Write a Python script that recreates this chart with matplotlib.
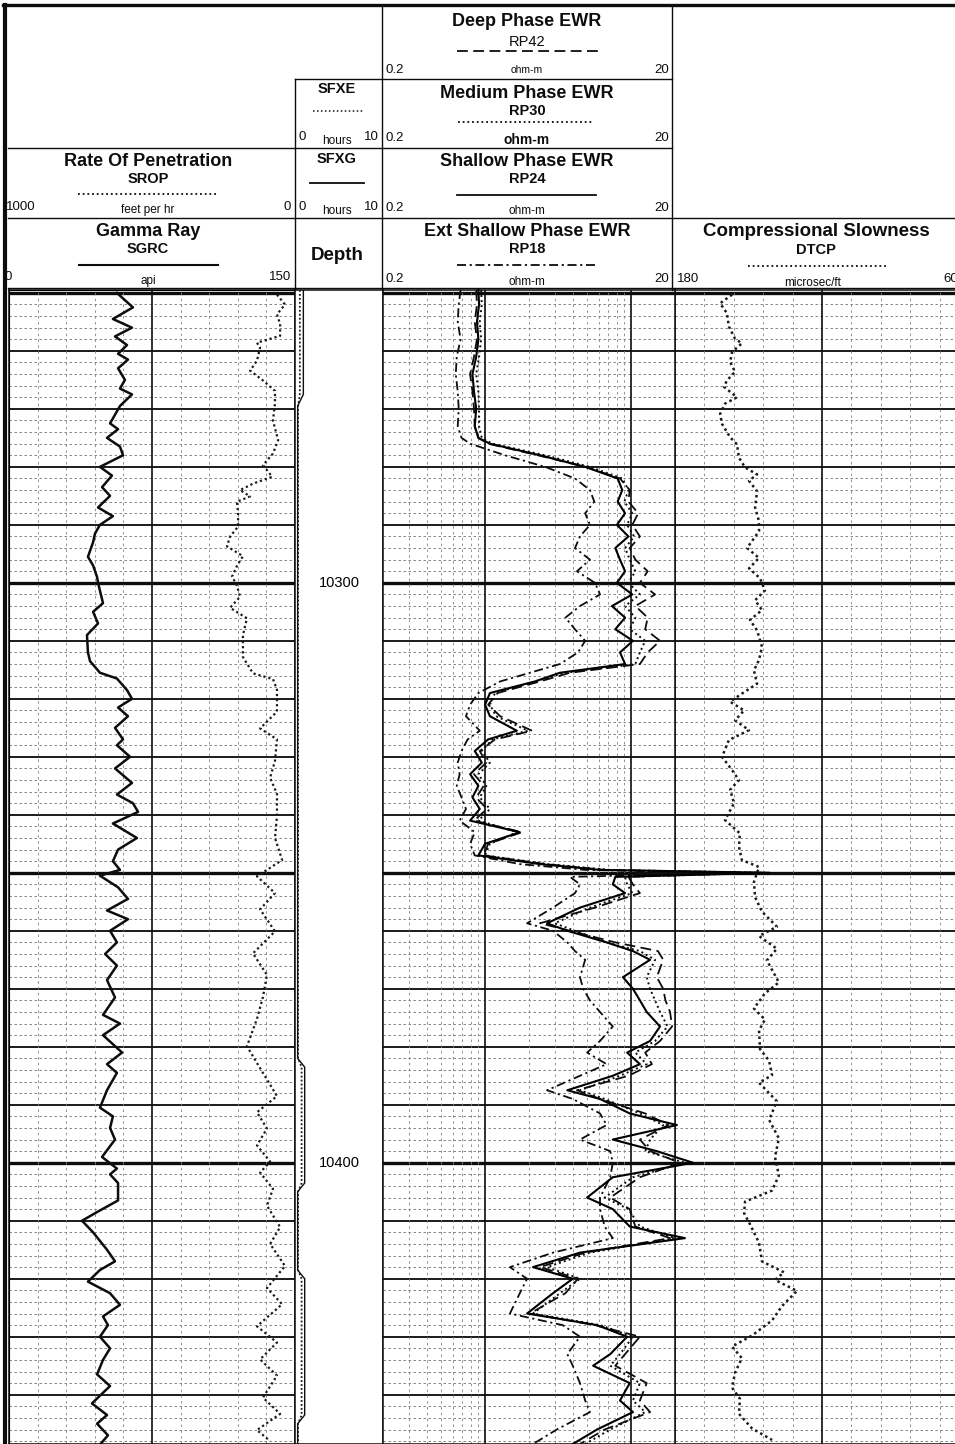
import matplotlib
matplotlib.use("Agg")
import matplotlib.pyplot as plt
from matplotlib.lines import Line2D

LARGURA = 955
ALTURA = 1444
TOPO_DADOS = 290

# ---- Gamma Ray (api)
GR_DEPTH = [10250.0, 10252.5, 10254.5, 10256.0, 10257.5, 10259.0, 10260.5, 10261.5, 10263.0, 10265.0,
            10266.5, 10267.5, 10269.5, 10271.0, 10272.5, 10273.5, 10275.0, 10276.5, 10278.0, 10280.0,
            10281.5, 10283.5, 10285.0, 10287.0, 10288.5, 10290.0, 10291.5, 10293.0, 10295.5, 10297.0,
            10299.0, 10300.0, 10303.5, 10305.0, 10307.0, 10309.0, 10312.0, 10313.5, 10315.5, 10316.5,
            10318.5, 10320.0, 10321.5, 10323.0, 10325.0, 10327.0, 10328.0, 10330.0, 10332.0, 10334.5,
            10336.5, 10338.0, 10339.5, 10341.5, 10344.0, 10346.0, 10348.0, 10349.5, 10350.5, 10352.5,
            10354.5, 10356.5, 10358.0, 10360.0, 10362.0, 10364.0, 10366.0, 10368.5, 10371.5, 10374.5,
            10376.0, 10378.0, 10381.0, 10383.0, 10384.5, 10387.5, 10390.5, 10392.0, 10394.0, 10396.0,
            10399.0, 10401.0, 10402.0, 10403.5, 10406.5, 10408.5, 10410.0, 10412.0, 10415.0, 10417.0,
            10418.5, 10420.5, 10422.5, 10424.5, 10426.5, 10428.0, 10430.0, 10432.0, 10434.0, 10436.5,
            10438.5, 10441.5, 10443.5, 10445.0, 10447.0, 10448.5]
GR_API = [56.6, 65.0, 54.5, 64.5, 55.6, 61.9, 57.2, 62.4, 57.2, 60.8,
          58.2, 64.5, 58.2, 55.6, 53.0, 57.2, 51.4, 58.2, 59.8, 47.7,
          54.0, 48.8, 53.0, 46.7, 54.5, 47.7, 45.1, 44.1, 41.4, 44.1,
          46.2, 46.7, 49.3, 44.1, 46.7, 40.9, 41.4, 42.5, 47.7, 56.6,
          61.9, 64.5, 57.2, 62.4, 55.6, 59.8, 56.6, 63.5, 55.6, 64.5,
          56.6, 65.0, 67.7, 54.5, 67.1, 57.2, 54.5, 58.2, 47.7, 57.2,
          62.4, 51.4, 62.4, 53.0, 56.6, 50.4, 56.6, 51.4, 55.6, 49.3,
          58.2, 49.3, 59.3, 51.4, 56.6, 51.4, 47.7, 54.5, 53.0, 55.6,
          48.8, 56.6, 53.0, 57.2, 57.2, 46.2, 38.3, 44.1, 51.4, 55.6,
          47.7, 41.4, 53.0, 58.2, 49.3, 51.9, 47.7, 53.0, 49.3, 46.2,
          53.0, 43.5, 51.4, 46.2, 51.9, 48.0]

# ---- Rate of penetration (feet per hr)
ROP_DEPTH = [10250.3, 10252.0, 10253.7, 10255.4, 10257.4, 10258.6, 10259.4, 10261.7, 10263.4, 10265.1,
             10266.9, 10269.1, 10272.0, 10275.4, 10277.7, 10279.7, 10281.7, 10282.9, 10284.0, 10285.1,
             10286.0, 10288.0, 10290.3, 10292.0, 10293.7, 10295.4, 10297.1, 10298.9, 10300.5, 10302.4,
             10304.3, 10306.1, 10309.0, 10312.8, 10315.6, 10316.6, 10318.4, 10322.2, 10325.1, 10327.0,
             10330.7, 10333.6, 10336.4, 10340.2, 10344.0, 10347.8, 10350.6, 10353.5, 10356.3, 10360.1,
             10363.9, 10367.6, 10371.4, 10375.2, 10379.9, 10382.8, 10388.5, 10391.3, 10394.1, 10397.0,
             10399.8, 10401.7, 10404.5, 10407.4, 10411.1, 10414.0, 10417.8, 10421.6, 10424.4, 10428.2,
             10431.0, 10433.9, 10436.7, 10440.5, 10443.3, 10446.1, 10448.0]
ROP_FTHR = [63, 35, 63, 52, 52, 133, 122, 133, 157, 112,
            70, 70, 77, 59, 77, 112, 80, 147, 192, 157,
            203, 199, 199, 227, 238, 182, 203, 220, 203, 192,
            227, 168, 182, 182, 147, 77, 63, 63, 122, 63,
            70, 87, 63, 63, 70, 45, 133, 70, 122, 70,
            147, 98, 112, 133, 168, 133, 63, 133, 98, 133,
            87, 122, 77, 98, 52, 87, 35, 98, 45, 133,
            63, 122, 63, 112, 52, 133, 87]

# ---- SFXE / SFXG (hours)
SFX_DEPTH = [10249.5, 10267.5, 10269.5, 10382.0, 10383.5, 10403.5, 10405.0, 10418.5, 10420.0, 10443.5,
             10445.0, 10448.5]
SFXE_HR = [0.55, 0.55, 0.35, 0.35, 0.75, 0.75, 0.35, 0.35, 0.75, 0.75, 0.35, 0.35]
SFXG_HR = [0.95, 0.95, 0.30, 0.30, 1.10, 1.10, 0.30, 0.30, 1.10, 1.10, 0.30, 0.30]

# ---- Resistividades EWR (ohm-m)
RES_DEPTH = [10249.5, 10252.0, 10255.0, 10258.0, 10261.0, 10264.0, 10267.0, 10270.0, 10273.0, 10275.0,
             10276.0, 10278.0, 10280.0, 10282.0, 10284.0, 10286.0, 10288.0, 10290.0, 10292.0, 10294.0,
             10296.0, 10298.0, 10300.0, 10302.0, 10304.0, 10306.0, 10308.0, 10310.0, 10312.0, 10314.0,
             10315.5, 10317.0, 10319.0, 10321.0, 10323.0, 10325.5, 10327.0, 10329.0, 10331.0, 10333.0,
             10335.0, 10337.0, 10339.0, 10341.0, 10343.0, 10345.0, 10347.0, 10348.5, 10349.5, 10350.0,
             10350.7, 10352.0, 10353.5, 10356.0, 10358.7, 10360.0, 10362.0, 10363.5, 10365.0, 10368.0,
             10370.0, 10372.0, 10374.0, 10376.5, 10379.0, 10381.0, 10383.0, 10385.0, 10387.5, 10389.0,
             10391.5, 10393.5, 10396.0, 10398.0, 10400.0, 10402.5, 10406.0, 10408.0, 10411.0, 10413.0,
             10415.5, 10418.0, 10420.0, 10422.5, 10426.0, 10428.0, 10430.0, 10433.0, 10435.0, 10438.0,
             10441.0, 10443.0, 10446.0, 10448.5]
RP24 = [0.90, 0.91, 0.88, 0.90, 0.87, 0.82, 0.84, 0.87, 0.85, 0.90,
        1.08, 2.38, 4.85, 8.1, 8.7, 8.1, 9.1, 8.0, 9.6, 7.8,
        8.4, 9.1, 8.0, 10.2, 7.4, 9.1, 7.8, 10.3, 8.4, 9.1,
        3.26, 2.20, 1.08, 1.00, 1.08, 1.65, 1.05, 0.85, 0.95, 0.79,
        0.90, 0.82, 0.92, 0.79, 1.73, 1.00, 0.90, 2.38, 6.13, 89.0,
        7.8, 7.5, 9.1, 4.47, 2.66, 3.66, 6.8, 10.3, 13.5, 8.8,
        10.3, 11.5, 12.8, 15.8, 13.5, 9.4, 11.5, 7.5, 3.66, 6.13,
        9.8, 20.6, 7.5, 15.0, 26.6, 7.5, 5.0, 7.5, 9.8, 23.4,
        4.47, 2.13, 3.99, 2.92, 1.94, 5.85, 9.4, 7.2, 5.5, 9.8,
        8.4, 10.3, 5.85, 3.99]
RP30 = [0.94, 0.95, 0.92, 0.94, 0.91, 0.87, 0.90, 0.91, 0.91, 0.95,
        1.12, 2.58, 5.23, 8.7, 9.6, 9.0, 10.2, 9.4, 10.5, 9.1,
        9.8, 10.7, 9.6, 11.5, 9.1, 10.7, 9.8, 12.5, 11.5, 10.7,
        3.55, 2.20, 1.17, 1.08, 1.19, 1.97, 1.12, 0.95, 1.08, 0.90,
        1.02, 0.92, 1.08, 0.90, 1.67, 1.08, 1.00, 2.70, 7.2, 83.0,
        9.1, 9.4, 10.2, 5.23, 3.00, 4.13, 6.8, 11.5, 14.6, 12.8,
        13.5, 14.6, 15.8, 17.8, 14.6, 10.7, 12.8, 8.4, 4.47, 6.6,
        11.5, 16.6, 13.5, 12.5, 23.4, 10.3, 6.6, 9.6, 11.5, 20.0,
        5.23, 2.66, 4.47, 3.26, 2.13, 6.13, 10.3, 8.4, 7.2, 11.5,
        10.3, 12.5, 7.2, 4.85]
RP42 = [0.87, 0.88, 0.85, 0.88, 0.84, 0.79, 0.82, 0.84, 0.85, 0.90,
        1.05, 2.30, 4.85, 8.4, 9.8, 9.6, 11.2, 10.2, 11.5, 9.8,
        10.7, 13.0, 11.5, 14.6, 10.7, 13.0, 12.5, 15.8, 13.0, 11.5,
        3.82, 2.38, 1.22, 1.05, 1.27, 2.10, 1.17, 0.92, 1.02, 0.84,
        0.98, 0.87, 1.03, 0.84, 1.79, 1.05, 0.98, 2.58, 6.6, 76.0,
        9.6, 10.3, 11.5, 5.66, 2.38, 3.82, 7.8, 15.3, 16.6, 15.0,
        16.6, 17.2, 18.5, 19.1, 15.8, 12.5, 13.9, 9.6, 4.26, 6.13,
        12.5, 18.0, 11.5, 13.5, 21.6, 11.5, 7.2, 9.8, 10.7, 18.5,
        4.85, 2.38, 4.33, 3.55, 2.03, 5.66, 11.5, 9.1, 7.8, 12.8,
        11.5, 13.5, 6.6, 4.47]
RP18 = [0.68, 0.66, 0.65, 0.68, 0.64, 0.63, 0.65, 0.66, 0.65, 0.69,
        0.79, 1.37, 2.58, 4.13, 5.23, 5.6, 4.85, 5.23, 4.47, 4.13,
        5.23, 4.26, 5.66, 6.13, 4.47, 3.55, 4.13, 4.85, 4.33, 3.26,
        2.03, 1.27, 0.90, 0.79, 0.74, 0.92, 0.76, 0.69, 0.65, 0.67,
        0.64, 0.69, 0.74, 0.67, 0.85, 0.79, 0.85, 1.73, 4.85, 56.0,
        3.82, 4.47, 4.13, 2.92, 1.94, 2.92, 3.66, 4.13, 4.85, 4.47,
        4.7, 5.23, 6.13, 7.5, 6.13, 5.0, 6.8, 4.47, 2.66, 3.99,
        6.13, 6.8, 4.47, 7.2, 7.5, 7.2, 6.13, 6.13, 6.6, 7.5,
        2.92, 1.48, 1.94, 1.73, 1.48, 3.4, 4.47, 3.66, 3.99, 4.47,
        4.85, 5.23, 3.1, 2.13]

# ---- Compressional slowness (microsec/ft)
DT_DEPTH = [10250.3, 10251.8, 10253.5, 10255.8, 10257.9, 10258.7, 10260.2, 10261.9, 10263.6, 10265.1,
            10266.2, 10268.0, 10269.1, 10270.9, 10272.6, 10274.9, 10276.1, 10278.4, 10280.1, 10281.3,
            10282.4, 10284.2, 10287.0, 10289.4, 10291.1, 10294.0, 10295.7, 10297.5, 10299.2, 10301.3,
            10303.0, 10304.7, 10306.4, 10308.2, 10311.0, 10313.3, 10315.1, 10317.4, 10319.1, 10320.5,
            10322.0, 10323.7, 10325.4, 10327.1, 10330.0, 10332.3, 10334.0, 10335.7, 10338.0, 10340.9,
            10343.2, 10345.5, 10347.8, 10349.0, 10351.6, 10354.2, 10356.7, 10359.3, 10360.9, 10363.1,
            10365.1, 10368.9, 10370.8, 10373.4, 10375.3, 10377.2, 10380.4, 10382.4, 10384.9, 10386.2,
            10389.4, 10392.6, 10395.8, 10399.0, 10402.2, 10404.8, 10406.7, 10408.7, 10410.6, 10413.8,
            10417.0, 10418.9, 10420.2, 10422.1, 10424.7, 10427.2, 10429.8, 10431.7, 10433.7, 10436.2,
            10438.8, 10440.7, 10443.3, 10445.8, 10447.8]
DTCP = [156.7, 161.6, 158.8, 158.0, 155.5, 152.7, 156.7, 157.5, 155.5, 158.8,
        160.0, 154.7, 159.6, 161.6, 160.8, 157.5, 154.7, 153.9, 151.4, 146.5,
        149.8, 146.5, 147.3, 145.7, 145.7, 150.6, 145.7, 149.8, 145.3, 143.3,
        147.3, 144.5, 149.4, 146.5, 144.5, 145.7, 147.8, 146.5, 152.7, 157.5,
        151.8, 155.5, 149.8, 158.0, 160.8, 156.7, 153.9, 157.5, 155.9, 159.6,
        153.5, 153.9, 152.7, 145.7, 147.8, 147.3, 144.5, 138.4, 145.7, 138.4,
        142.5, 137.6, 143.3, 147.8, 143.3, 145.7, 145.3, 141.6, 140.4, 145.7,
        138.4, 141.6, 137.6, 139.2, 137.6, 140.4, 151.4, 151.8, 149.4, 145.7,
        144.5, 135.5, 139.2, 130.2, 136.3, 140.4, 148.6, 156.7, 152.7, 155.5,
        156.7, 153.5, 153.9, 148.6, 140.4]

PROF_TOPO = 10249.5
PROF_BASE = 10448.5
DEPTH_LABELS = [10300, 10400]

FONTE = ["Liberation Sans", "DejaVu Sans"]

DASH_RP42 = (0, (6, 3))
DOT_RP30 = (0, (1, 1.6))
DASHDOT_RP18 = (0, (5, 2, 1.2, 2))


def fx(x):
    return x / LARGURA


def fy(y):
    return 1 - y / ALTURA


def criar_eixo(fig, x0, x1):
    altura = (ALTURA - TOPO_DADOS) / ALTURA
    ax = fig.add_axes([fx(x0), 0, (x1 - x0) / LARGURA, altura])
    ax.set_ylim(PROF_BASE, PROF_TOPO)
    ax.set_xticks([])
    ax.set_yticks([])
    ax.minorticks_off()
    for lado in ax.spines.values():
        lado.set_linewidth(1.1)
        lado.set_color("0.05")
    return ax


def grade_horizontal(ax):
    for d in range(10250, 10450, 2):
        if d % 50 == 0:
            ax.axhline(d, color="0.05", lw=2.4, zorder=1)
        elif d % 10 == 0:
            ax.axhline(d, color="0.1", lw=1.4, zorder=1)
        else:
            ax.axhline(d, color="0.45", lw=0.6, ls=(0, (3, 3)), zorder=1)


def grade_vertical(ax, valores, principais):
    for v in valores:
        if v in principais:
            ax.axvline(v, color="0.05", lw=1.2, zorder=1)
        else:
            ax.axvline(v, color="0.5", lw=0.6, ls=(0, (3, 4)), zorder=1)


def linha(fig, x0, y0, x1, y1, lw=1.0, ls="-"):
    fig.add_artist(Line2D([fx(x0), fx(x1)], [fy(y0), fy(y1)], color="0.05",
                          lw=lw, ls=ls, transform=fig.transFigure))


def texto(fig, x, y, s, tamanho, negrito=False, ha="center"):
    fig.text(fx(x), fy(y), s, fontsize=tamanho, ha=ha, va="center",
             fontweight="bold" if negrito else "normal", family=FONTE, color="0.05")


def desenhar_cabecalho(fig):
    # bordas e divisorias
    linha(fig, 3, 5, LARGURA, 5, lw=2.4)
    linha(fig, 5, 5, 5, ALTURA, lw=3.0)
    linha(fig, 295, 79, 672, 79)
    linha(fig, 8, 148, 672, 148)
    linha(fig, 8, 218, LARGURA, 218)
    linha(fig, 8, 288, LARGURA, 288)
    linha(fig, 295, 79, 295, 290)
    linha(fig, 382, 6, 382, 290)
    linha(fig, 672, 6, 672, 290)

    # coluna de resistividade
    cx = 527
    texto(fig, cx, 22, "Deep Phase EWR", 13, True)
    texto(fig, cx, 42, "RP42", 10.5)
    linha(fig, 457, 51, 598, 51, lw=1.3, ls=DASH_RP42)
    texto(fig, cx, 93, "Medium Phase EWR", 13, True)
    texto(fig, cx, 111, "RP30", 10.5, True)
    linha(fig, 458, 122, 594, 122, lw=1.3, ls=DOT_RP30)
    texto(fig, cx, 161, "Shallow Phase EWR", 13, True)
    texto(fig, cx, 179, "RP24", 10.5, True)
    linha(fig, 457, 195, 596, 195, lw=1.3)
    texto(fig, cx, 231, "Ext Shallow Phase EWR", 13, True)
    texto(fig, cx, 249, "RP18", 10.5, True)
    linha(fig, 457, 265, 596, 265, lw=1.3, ls=DASHDOT_RP18)
    for y_esc, y_un, neg, tam in [(70, 70, False, 7.5), (138, 140, True, 10),
                                  (208, 211, False, 8.5), (279, 282, False, 8.5)]:
        texto(fig, 385, y_esc, "0.2", 9.5, ha="left")
        texto(fig, 669, y_esc, "20", 9.5, ha="right")
        texto(fig, cx, y_un, "ohm-m", tam, neg)

    # coluna SFXE / SFXG / Depth
    cd = 337
    texto(fig, cd, 89, "SFXE", 10.5, True)
    linha(fig, 313, 111, 363, 111, lw=1.1, ls=DOT_RP30)
    texto(fig, cd, 159, "SFXG", 10.5, True)
    linha(fig, 310, 183, 364, 183, lw=1.3)
    for y_esc in [137, 207]:
        texto(fig, 298, y_esc, "0", 9.5, ha="left")
        texto(fig, 379, y_esc, "10", 9.5, ha="right")
        texto(fig, cd, y_esc + 4, "hours", 8.5)
    texto(fig, cd, 255, "Depth", 13.5, True)

    # trilha 1
    c1 = 148
    texto(fig, c1, 161, "Rate Of Penetration", 13, True)
    texto(fig, c1, 179, "SROP", 10.5, True)
    linha(fig, 78, 194, 218, 194, lw=1.3, ls=DOT_RP30)
    texto(fig, 6, 207, "1000", 9.5, ha="left")
    texto(fig, c1, 210, "feet per hr", 8.5)
    texto(fig, 291, 207, "0", 9.5, ha="right")
    texto(fig, c1, 231, "Gamma Ray", 13, True)
    texto(fig, c1, 249, "SGRC", 10.5, True)
    linha(fig, 79, 265, 218, 265, lw=1.5)
    texto(fig, 12, 277, "0", 9.5, ha="right")
    texto(fig, c1, 281, "api", 8.5)
    texto(fig, 291, 277, "150", 9.5, ha="right")

    # trilha sonica
    cs = 816
    texto(fig, cs, 232, "Compressional Slowness", 13.5, True)
    texto(fig, cs, 250, "DTCP", 10.5, True)
    linha(fig, 748, 266, 887, 266, lw=1.3, ls=DOT_RP30)
    texto(fig, 677, 279, "180", 9.5, ha="left")
    texto(fig, 813, 283, "microsec/ft", 8.5)
    texto(fig, 943, 279, "60", 9.5, ha="left")


def gerar_grafico():
    plt.rcParams["font.family"] = FONTE
    fig = plt.figure(figsize=(LARGURA / 100, ALTURA / 100), dpi=100)

    # trilha 1: GR + ROP
    ax_gr = criar_eixo(fig, 9, 295)
    ax_gr.set_xlim(0, 150)
    grade_horizontal(ax_gr)
    grade_vertical(ax_gr, [15 * i for i in range(1, 10)], [75])
    ax_gr.plot(GR_API, GR_DEPTH, color="0.05", lw=1.8, zorder=3)
    ax_rop = ax_gr.twiny()
    ax_rop.set_xlim(1000, 0)
    ax_rop.set_ylim(PROF_BASE, PROF_TOPO)
    ax_rop.set_xticks([])
    ax_rop.plot(ROP_FTHR, ROP_DEPTH, color="0.1", lw=1.6, ls=(0, (1, 1.3)), zorder=3)

    # trilha de profundidade
    ax_dep = criar_eixo(fig, 295, 383)
    ax_dep.set_xlim(0, 10)
    ax_dep.plot(SFXG_HR, SFX_DEPTH, color="0.05", lw=1.0, zorder=3)
    ax_dep.plot(SFXE_HR, SFX_DEPTH, color="0.1", lw=1.3, ls=(0, (1, 1.2)), zorder=3)
    for d in DEPTH_LABELS:
        ax_dep.text(5, d, str(d), ha="center", va="center", fontsize=10.5, family=FONTE)

    # trilha de resistividade
    ax_res = criar_eixo(fig, 383, 675)
    ax_res.set_xscale("log")
    ax_res.set_xlim(0.2, 20)
    ax_res.set_xticks([])
    ax_res.minorticks_off()
    grade_horizontal(ax_res)
    menores = [0.3, 0.4, 0.5, 0.6, 0.7, 0.8, 0.9, 1, 2, 3, 4, 5, 6, 7, 8, 9, 10]
    grade_vertical(ax_res, menores, [1, 10])
    ax_res.plot(RP42, RES_DEPTH, color="0.05", lw=1.3, ls=DASH_RP42, zorder=3, clip_on=False)
    ax_res.plot(RP30, RES_DEPTH, color="0.05", lw=1.4, ls=DOT_RP30, zorder=3, clip_on=False)
    ax_res.plot(RP18, RES_DEPTH, color="0.05", lw=1.3, ls=DASHDOT_RP18, zorder=3, clip_on=False)
    ax_res.plot(RP24, RES_DEPTH, color="0.0", lw=1.5, zorder=4, clip_on=False)

    # trilha sonica
    ax_dt = criar_eixo(fig, 675, 969)
    ax_dt.set_xlim(180, 60)
    grade_horizontal(ax_dt)
    grade_vertical(ax_dt, [180 - 12 * i for i in range(1, 10)], [120])
    ax_dt.plot(DTCP, DT_DEPTH, color="0.1", lw=1.8, ls=(0, (1, 1.3)), zorder=3)
    ax_res.set_zorder(ax_dt.get_zorder() + 1)

    desenhar_cabecalho(fig)

    fig.savefig("out.png", dpi=100, facecolor="white")
    plt.close(fig)


def main():
    gerar_grafico()


if __name__ == "__main__":
    main()
